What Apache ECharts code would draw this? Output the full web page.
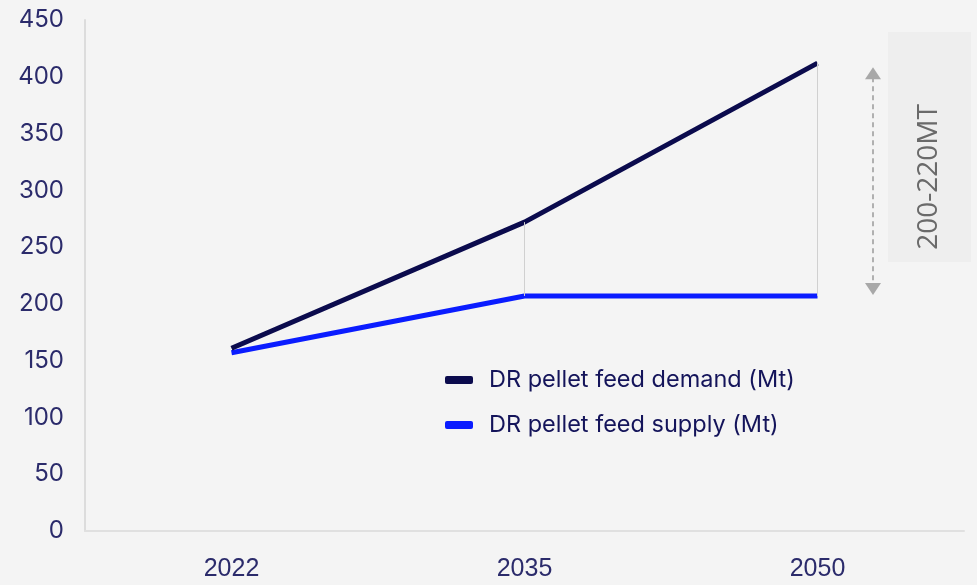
<!DOCTYPE html>
<html><head><meta charset="utf-8">
<script src="https://cdn.jsdelivr.net/npm/echarts@6/dist/echarts.min.js"></script>
<style>html,body{margin:0;padding:0;background:#f4f4f4}#c{width:977px;height:585px}</style>
</head><body><div id="c"></div>
<script>
const years = ['2022', '2035', '2050'];
const demand = [161, 272, 412];
const supply = [157, 207, 207];
const yTicks = [0, 50, 100, 150, 200, 250, 300, 350, 400, 450];
const gapLabel = '200-220MT';
const demandName = 'DR pellet feed demand (Mt)';
const supplyName = 'DR pellet feed supply (Mt)';

const chart = echarts.init(document.getElementById('c'));
const labelColor = '#2b2b6b';
const drops = years.slice(1).map((y, i) => [
  {coord: [y, supply[i + 1]]}, {coord: [y, demand[i + 1]]}
]);
chart.setOption({
  backgroundColor: '#f4f4f4',
  animation: false,
  grid: {left: 85, right: 13, top: 20, bottom: 54},
  legend: {
    orient: 'vertical', left: 440, top: 363, itemGap: 21,
    itemWidth: 28, itemHeight: 8, icon: 'roundRect',
    textStyle: {fontFamily: 'Inter', fontSize: 23.5, lineHeight: 24, color: '#14145a', padding: [0, 0, 0, 11]},
    data: [demandName, supplyName]
  },
  xAxis: {
    type: 'category', data: years, offset: 6,
    axisLine: {lineStyle: {color: '#e0e0e0', width: 2}},
    axisTick: {show: false},
    axisLabel: {color: labelColor, fontSize: 25, fontFamily: 'Liberation Sans', margin: 20}
  },
  yAxis: {
    type: 'value', min: yTicks[0], max: yTicks[yTicks.length - 1], interval: 50,
    axisLine: {show: true, lineStyle: {color: '#dcdcdc', width: 2}},
    splitLine: {show: false},
    axisLabel: {color: labelColor, fontSize: 24, fontFamily: 'Inter', margin: 21}
  },
  series: [
    {
      name: demandName, type: 'line', data: demand, symbol: 'none',
      lineStyle: {color: '#0b0b4d', width: 5}, itemStyle: {color: '#0b0b4d'}, z: 3,
      markLine: {silent: true, symbol: 'none', label: {show: false},
        lineStyle: {color: '#d0d0d0', width: 1, type: 'solid'}, data: drops}
    },
    {
      name: supplyName, type: 'line', data: supply, symbol: 'none',
      lineStyle: {color: '#0a1cff', width: 5}, itemStyle: {color: '#0a1cff'}, z: 2
    }
  ]
});

const pTop = chart.convertToPixel({xAxisIndex: 0, yAxisIndex: 0}, ['2050', demand[2]]);
const pBot = chart.convertToPixel({xAxisIndex: 0, yAxisIndex: 0}, ['2050', supply[2]]);
const ax = 873;
chart.setOption({
  graphic: [
    {type: 'rect', shape: {x: 888, y: 32, width: 83, height: 230}, style: {fill: '#eeeeee'}, z: 0},
    {type: 'text', x: 929, y: 177, rotation: Math.PI / 2,
      style: {text: gapLabel, fill: '#6a6a6a', font: '28px "Open Sans"', align: 'center', verticalAlign: 'middle'}},
    {type: 'line', shape: {x1: ax, y1: pTop[1] + 14, x2: ax, y2: pBot[1] - 14},
      style: {stroke: '#b0b0b0', lineWidth: 2, lineDash: [5, 4]}},
    {type: 'polygon', shape: {points: [[ax, pTop[1] + 4], [ax - 8, pTop[1] + 16], [ax + 8, pTop[1] + 16]]}, style: {fill: '#a8a8a8'}},
    {type: 'polygon', shape: {points: [[ax, pBot[1] - 1], [ax - 8, pBot[1] - 13], [ax + 8, pBot[1] - 13]]}, style: {fill: '#a8a8a8'}}
  ]
});
</script></body></html>
